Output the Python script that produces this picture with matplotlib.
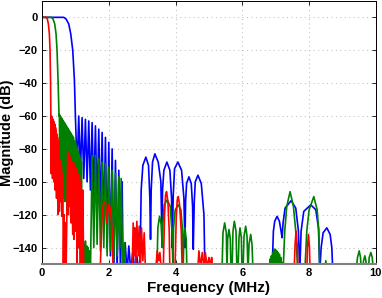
import matplotlib
matplotlib.use("Agg")
import matplotlib.pyplot as plt
import numpy as np

# magnitude responses, (frequency MHz, magnitude dB)
blue_pts = [
    (0, 0), (0.65, 0), (0.72, -1), (0.80, -4), (0.86, -10), (0.92, -20), (0.97, -38), (1.00, -60),
    (1.05, -92), (1.10, -60), (1.15, -95), (1.20, -61), (1.25, -98), (1.30, -62), (1.35, -100),
    (1.40, -63), (1.45, -105), (1.50, -64), (1.55, -110), (1.60, -66), (1.65, -115), (1.70, -68),
    (1.75, -120), (1.80, -70), (1.85, -128), (1.90, -73), (1.95, -140), (2.00, -76), (2.05, -145),
    (2.10, -80), (2.15, -155), (2.20, -87), (2.25, -155), (2.30, -93), (2.35, -155), (2.40, -100),
    (2.43, -155),
    (2.49, -137), (2.55, -155), (2.60, -139), (2.66, -155), (2.72, -142), (2.78, -155),
    (2.84, -145), (2.90, -155),
    (2.93, -155), (2.97, -105), (3.02, -90), (3.11, -85), (3.19, -90), (3.23, -110), (3.25, -135),
    (3.27, -105), (3.31, -88), (3.38, -83), (3.48, -88), (3.56, -100), (3.59, -133),
    (3.61, -105), (3.65, -93), (3.74, -88), (3.83, -93), (3.88, -110), (3.90, -140),
    (3.93, -108), (3.97, -92), (4.07, -88), (4.18, -93), (4.25, -110), (4.28, -140),
    (4.30, -112), (4.33, -101), (4.40, -97), (4.47, -101), (4.51, -115), (4.53, -141),
    (4.56, -112), (4.59, -100), (4.67, -96), (4.77, -101), (4.85, -120), (4.88, -155),
    (6.89, -155), (6.93, -130), (6.97, -124), (7.04, -121), (7.11, -124), (7.16, -130), (7.19, -134),
    (7.22, -125), (7.28, -116), (7.46, -111.5), (7.60, -116), (7.68, -130), (7.72, -155),
    (7.76, -130), (7.84, -118), (8.05, -114), (8.20, -117), (8.28, -128), (8.32, -155),
    (8.36, -140), (8.42, -131), (8.53, -128), (8.63, -132), (8.68, -140), (8.71, -155),
    (10, -155),
]

green_pts = [
    (0, 0), (0.28, 0), (0.33, -1), (0.38, -4), (0.42, -10), (0.45, -20), (0.48, -38), (0.51, -60),
    (0.52, -59), (0.535, -100), (0.55, -60), (0.565, -105), (0.58, -61), (0.595, -98), (0.61, -62),
    (0.625, -110), (0.64, -63), (0.655, -102), (0.67, -64), (0.685, -112), (0.70, -65), (0.715, -108),
    (0.73, -66), (0.745, -118), (0.76, -67), (0.775, -104), (0.79, -68), (0.805, -115), (0.82, -69),
    (0.835, -110), (0.85, -70), (0.865, -120), (0.88, -71), (0.895, -112), (0.91, -72), (0.925, -125),
    (0.94, -73), (0.955, -115), (0.97, -75), (0.985, -130), (1.00, -76), (1.015, -118), (1.03, -78),
    (1.045, -135), (1.06, -80), (1.075, -120), (1.09, -82), (1.105, -140), (1.12, -84), (1.135, -130),
    (1.15, -86), (1.165, -145), (1.18, -88), (1.195, -150),
    (1.22, -137), (1.24, -155), (1.26, -138), (1.28, -155), (1.30, -136), (1.32, -155), (1.34, -139),
    (1.36, -155), (1.38, -140), (1.40, -155), (1.42, -142), (1.45, -155),
    (1.50, -84), (1.55, -140), (1.60, -84), (1.65, -138), (1.70, -86), (1.75, -142), (1.80, -88),
    (1.85, -140), (1.90, -89), (1.95, -145), (2.00, -91), (2.05, -142), (2.10, -93), (2.15, -148),
    (2.20, -95), (2.25, -145), (2.30, -97), (2.33, -140), (2.37, -98), (2.42, -155),
    (2.47, -137), (2.50, -155),
    (3.44, -155), (3.47, -128), (3.52, -121), (3.57, -126), (3.60, -140),
    (3.62, -125), (3.66, -114), (3.75, -111), (3.84, -115), (3.89, -130), (3.92, -150),
    (3.94, -128), (3.99, -117), (4.08, -114), (4.16, -117), (4.21, -130), (4.23, -150),
    (4.25, -135), (4.28, -128), (4.32, -135), (4.34, -155),
    (5.39, -155), (5.42, -131), (5.47, -125), (5.52, -131), (5.54, -155),
    (5.56, -135), (5.60, -129), (5.64, -135), (5.66, -155),
    (5.69, -155), (5.72, -130), (5.76, -124), (5.81, -130), (5.84, -155),
    (5.87, -155), (5.90, -134), (5.93, -128), (5.97, -134), (5.99, -155),
    (6.02, -155), (6.05, -133), (6.10, -127), (6.14, -133), (6.17, -155),
    (6.20, -138), (6.25, -132), (6.29, -138), (6.32, -155),
    (6.77, -155), (6.79, -150), (6.81, -155), (6.83, -147), (6.85, -155), (6.87, -145), (6.89, -155),
    (6.91, -143), (6.93, -155), (6.95, -141), (6.97, -155), (6.99, -141), (7.01, -155), (7.03, -142),
    (7.05, -155), (7.07, -143), (7.09, -155), (7.11, -144), (7.13, -155), (7.15, -146), (7.17, -155),
    (7.19, -149), (7.22, -155),
    (7.27, -130), (7.33, -115), (7.43, -106), (7.53, -115), (7.60, -130), (7.66, -155),
    (7.87, -155), (7.93, -130), (8.00, -117), (8.14, -109), (8.24, -117), (8.29, -130), (8.32, -155),
    (8.47, -155), (8.50, -148), (8.53, -155),
    (9.40, -155), (9.45, -146), (9.50, -142), (9.54, -146), (9.56, -155),
    (9.60, -155), (9.63, -148), (9.67, -145), (9.70, -148), (9.72, -155),
    (9.77, -155), (9.80, -146), (9.85, -143), (9.89, -146), (9.93, -155),
    (10, -155),
]

red_pts = [
    (0, 0), (0.12, 0), (0.16, -1), (0.19, -4), (0.22, -10), (0.24, -20), (0.255, -38), (0.265, -60),
    (0.275, -95), (0.285, -60), (0.295, -90), (0.305, -61), (0.315, -98), (0.325, -62), (0.335, -88),
    (0.345, -63), (0.355, -100), (0.365, -64), (0.375, -92), (0.385, -65), (0.395, -105), (0.405, -67),
    (0.415, -95), (0.425, -69), (0.435, -110), (0.445, -71), (0.455, -100), (0.465, -73), (0.475, -120),
    (0.485, -75), (0.495, -105), (0.505, -77),
    (0.52, -118), (0.54, -87), (0.56, -112), (0.58, -90), (0.60, -121), (0.62, -95), (0.64, -150),
    (0.66, -120), (0.68, -155), (0.70, -125), (0.72, -155), (0.75, -110), (0.77, -82), (0.79, -120),
    (0.81, -83), (0.83, -115), (0.85, -85), (0.87, -125), (0.89, -88), (0.92, -132), (0.94, -88),
    (0.96, -135), (0.98, -90), (1.00, -130), (1.02, -92), (1.05, -150), (1.07, -95), (1.10, -140),
    (1.12, -97), (1.15, -155), (1.17, -100), (1.20, -150), (1.22, -105), (1.25, -155),
    (1.74, -155), (1.80, -120), (1.85, -112), (1.90, -113), (1.94, -125), (1.96, -120), (2.00, -114),
    (2.05, -116), (2.10, -130), (2.13, -155),
    (2.70, -155), (2.73, -125), (2.76, -145), (2.78, -128), (2.81, -150), (2.84, -124), (2.88, -145),
    (2.91, -127), (2.95, -150), (2.98, -128), (3.02, -148), (3.06, -131), (3.10, -155),
    (3.40, -155), (3.45, -142), (3.50, -148), (3.53, -143), (3.58, -155),
    (3.63, -155), (3.67, -120), (3.70, -108), (3.73, -106), (3.77, -112), (3.81, -130), (3.83, -155),
    (3.98, -155), (4.02, -122), (4.05, -111), (4.08, -109), (4.12, -114), (4.17, -130), (4.20, -155),
    (4.66, -155), (4.70, -142), (4.75, -152), (4.80, -143), (4.85, -152), (4.89, -143), (4.95, -152),
    (5.00, -146), (5.06, -152), (5.08, -146), (5.11, -155),
    (7.55, -155), (7.58, -138), (7.61, -130), (7.64, -138), (7.67, -155),
    (7.93, -155), (7.95, -140), (7.98, -132), (8.01, -140), (8.03, -155),
    (10, -155),
]

x_ticks = [0, 2, 4, 6, 8, 10]
y_ticks = [-140, -120, -100, -80, -60, -40, -20, 0]

plt.rcParams['font.family'] = ['Liberation Sans', 'DejaVu Sans']

fig = plt.figure(figsize=(3.82, 2.98), dpi=100)
ax = fig.add_axes([0.110, 0.114, 0.874, 0.883])

for pts, col in [(blue_pts, "blue"), (green_pts, "green"), (red_pts, "red")]:
    f, m = np.array(pts).T
    ax.plot(f, m, color=col, linewidth=1.2)

ax.set_xlim(0, 10)
ax.set_ylim(-150, 10)
ax.set_xticks(x_ticks)
ax.set_yticks(y_ticks)
ax.grid(True, linestyle=(0, (1, 3)), color="#c4c4c4", linewidth=0.8)
ax.tick_params(direction="in", length=3, labelsize=8, width=0.6,
               top=True, right=True, pad=3)
for lab in ax.get_xticklabels() + ax.get_yticklabels():
    lab.set_fontweight("bold")
for s in ax.spines.values():
    s.set_linewidth(0.7)
ax.spines["bottom"].set_color("#808080")
ax.spines["bottom"].set_linewidth(1.5)

ax.set_xlabel("Frequency (MHz)", fontsize=11, fontweight="bold")
ax.set_ylabel("Magnitude (dB)", fontsize=10.5, fontweight="bold")
ax.xaxis.set_label_coords(0.5, -0.064)
ax.yaxis.set_label_coords(-0.083, 0.5)

fig.savefig("out.png", dpi=100)
